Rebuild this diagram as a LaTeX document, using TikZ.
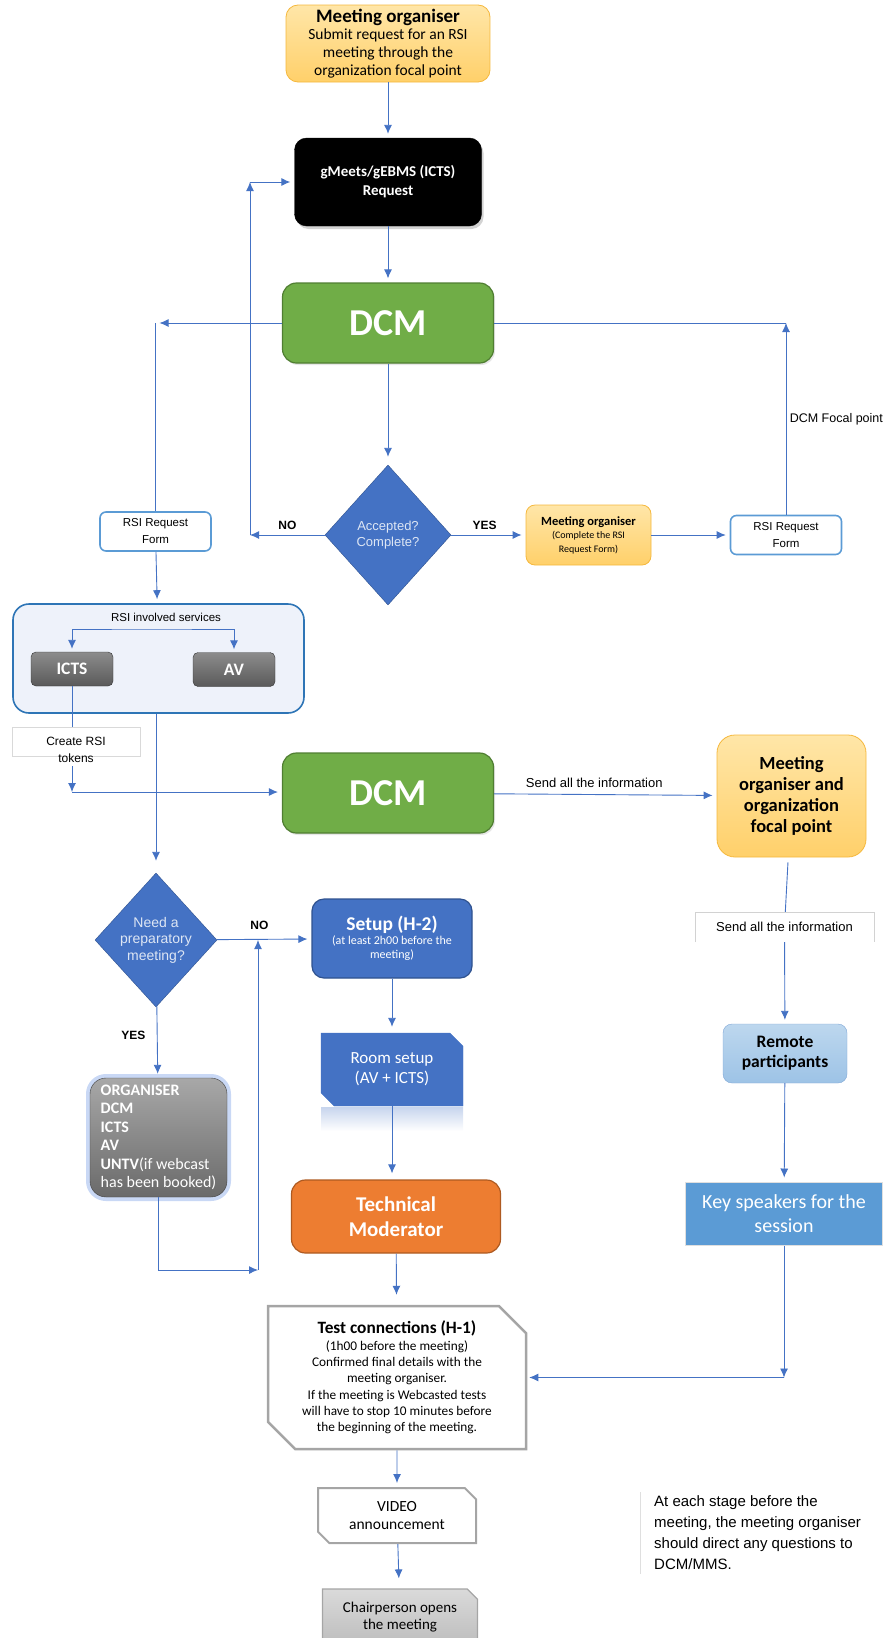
\documentclass[tikz,border=0pt]{standalone}
\usepackage{fontspec}
\setmainfont{Carlito}
\newfontfamily\arial{Liberation Sans}
\usetikzlibrary{positioning,shapes.geometric,shapes.misc,shadows,arrows.meta}

\definecolor{arrowblue}{HTML}{4472C4}
\definecolor{boxblue}{HTML}{4472C4}
\definecolor{boxblueline}{HTML}{2F528F}
\definecolor{dcmgreen}{HTML}{70AD47}
\definecolor{dcmgreenline}{HTML}{507E32}
\definecolor{orgtop}{HTML}{FFE6A8}
\definecolor{orgbot}{HTML}{FFD06A}
\definecolor{orgline}{HTML}{F5B83D}
\definecolor{tmorange}{HTML}{ED7D31}
\definecolor{tmline}{HTML}{AE5A21}
\definecolor{formline}{HTML}{5B9BD5}
\definecolor{svcfill}{HTML}{EEF2FA}
\definecolor{svcline}{HTML}{2E75B6}
\definecolor{icttop}{HTML}{8C8C8C}
\definecolor{ictbot}{HTML}{5A5A5A}
\definecolor{untvtop}{HTML}{A8A8A8}
\definecolor{untvbot}{HTML}{6A6A6A}
\definecolor{untvglow}{HTML}{9DB8EC}
\definecolor{keyblue}{HTML}{5B9BD5}
\definecolor{remtop}{HTML}{BDD7EE}
\definecolor{rembot}{HTML}{9DC3E6}
\definecolor{remline}{HTML}{7FA6D6}
\definecolor{snipline}{HTML}{A5A5A5}
\definecolor{chairtop}{HTML}{DADADA}
\definecolor{chairbot}{HTML}{BDBDBD}
\definecolor{diatext}{HTML}{DDE6F4}

\tikzstyle{block} = [rectangle, draw, text centered, align=center, rounded corners=12pt, inner sep=2pt]
\tikzstyle{orgblock} = [block, draw=orgline, top color=orgtop, bottom color=orgbot, line width=0.8pt]
\tikzstyle{dcmblock} = [block, draw=dcmgreenline, fill=dcmgreen, line width=1.2pt, rounded corners=14pt, text=white, minimum width=211pt, minimum height=80pt, font=\fontsize{38}{40}\selectfont\bfseries, drop shadow={opacity=0.2, shadow xshift=1.5pt, shadow yshift=-2pt}]
\tikzstyle{formblock} = [block, draw=formline, fill=white, line width=1.6pt, rounded corners=6pt, minimum width=111pt, minimum height=39pt, font=\arial\fontsize{11.5}{17}\selectfont]
\tikzstyle{greyblock} = [block, draw=black!80, top color=icttop, bottom color=ictbot, text=white, rounded corners=5pt, minimum width=82pt, minimum height=34pt, font=\fontsize{17.5}{19}\selectfont\bfseries]
\tikzstyle{decision} = [diamond, draw=boxblueline, fill=boxblue, text=diatext, align=center, inner sep=0pt, font=\arial\fontsize{13}{16}\selectfont]
\tikzstyle{snip} = [chamfered rectangle, chamfered rectangle corners={north east, south west}, align=center]
\tikzstyle{tokbox} = [rectangle, draw=gray!30, fill=white, minimum width=128pt, minimum height=29pt, font=\arial\fontsize{12}{14}\selectfont]
\tikzstyle{lbl} = [font=\arial\bfseries\fontsize{12}{14}\selectfont]
\tikzstyle{txt} = [font=\arial\fontsize{13}{15}\selectfont]
\tikzstyle{wire} = [draw=arrowblue, line width=0.9pt]
\tikzstyle{line} = [draw=arrowblue, line width=0.9pt, -{Latex[length=9pt,width=8pt]}, shorten >=4pt]

\begin{document}
\begin{tikzpicture}[x=1pt, y=-1pt]
	\useasboundingbox (0,0) rectangle (890,1638);

	% request chain
	\node[orgblock, minimum width=204pt, minimum height=77pt, inner sep=1pt, font=\fontsize{15.5}{17.8}\selectfont] (mo) at (388,43.5) {{\fontsize{19}{21}\selectfont\bfseries Meeting organiser}\\Submit request for an RSI\\meeting through the\\organization focal point};
	\node[block, draw=black, fill=black, text=white, minimum width=187pt, minimum height=88pt, font=\fontsize{15}{19}\selectfont\bfseries, drop shadow={opacity=0.35, shadow xshift=2pt, shadow yshift=-3pt}] (req) at (388,182) {gMeets/gEBMS (ICTS)\\Request};
	\node[dcmblock] (dcm) at (388,323) {DCM};
	\node[decision, minimum width=126pt, minimum height=140pt] (acc) at (388,535) {Accepted?\\Complete?};
	\node[orgblock, rounded corners=9pt, minimum width=125pt, minimum height=60pt, font=\fontsize{10}{13.5}\selectfont] (mosmall) at (588.5,535) {{\fontsize{12.5}{14}\selectfont\bfseries Meeting organiser}\\(Complete the RSI\\Request Form)};
	\node[formblock] (formR) at (786,535) {RSI Request\\Form};
	\node[formblock] (formL) at (155.5,531.5) {RSI Request\\Form};
	\coordinate (cornerL) at (155.5,323);
	\coordinate (cornerR) at (786,323);
	\coordinate (nocorner) at (250,535);
	\coordinate (notop) at (250,182);

	% services
	\node[block, draw=svcline, fill=svcfill, line width=1.6pt, rounded corners=16pt, minimum width=291pt, minimum height=109pt] (svc) at (158.5,658.5) {};
	\node[font=\arial\fontsize{11.5}{13}\selectfont] (svct) at (166,617) {RSI involved services};
	\node[greyblock] (icts) at (72,669) {ICTS};
	\node[greyblock] (av) at (234,669.5) {AV};
	\coordinate (svcbar) at (150,629);
	\node[tokbox, label={[name=toklbl, font=\arial\fontsize{12}{14}\selectfont, label distance=-6pt]below:tokens}] (tok) at (76,741.5) {Create RSI};
	\coordinate (tokc) at (72,792);

	% information
	\node[dcmblock] (dcm2) at (388,793) {DCM};
	\node[orgblock, rounded corners=18pt, minimum width=149pt, minimum height=122pt, font=\fontsize{18.5}{21}\selectfont\bfseries] (orgfp) at (791.5,796) {Meeting\\organiser and\\organization\\focal point};
	\node[txt, minimum width=179pt, minimum height=30pt] (sendbox) at (784.5,927) {Send all the information};
	\node[block, draw=remline, top color=remtop, bottom color=rembot, rounded corners=9pt, minimum width=124pt, minimum height=59pt, font=\fontsize{17.5}{20}\selectfont\bfseries] (remote) at (785,1053.5) {Remote\\participants};
	\node[rectangle, draw=gray!25, fill=keyblue, line width=1pt, text=white, align=center, minimum width=197pt, minimum height=63pt, font=\fontsize{20}{24}\selectfont] (key) at (784,1213.5) {Key speakers for the\\session};

	% preparation
	\node[decision, minimum width=122pt, minimum height=134pt, font=\arial\fontsize{14}{16.5}\selectfont] (need) at (156,940) {Need a\\preparatory\\meeting?};
	\node[block, draw=black!75, top color=untvtop, bottom color=untvbot, text=white, rounded corners=16pt, align=left, minimum width=137pt, minimum height=119pt, font=\fontsize{16}{18.5}\selectfont, preaction={draw=untvglow, line width=8pt, opacity=0.55}] (untv) at (158.5,1137.5) {\textbf{ORGANISER}\\\textbf{DCM}\\\textbf{ICTS}\\\textbf{AV}\\\textbf{UNTV}(if webcast\\has been booked)};
	\coordinate (loopB) at (258,1270);
	\node[block, draw=boxblueline, fill=boxblue, line width=1.2pt, text=white, minimum width=160pt, minimum height=79pt, font=\fontsize{12}{14}\selectfont] (setup) at (392,938.5) {{\fontsize{19.5}{22}\selectfont\bfseries Setup (H-2)}\\(at least 2h00 before the\\meeting)};
	\node[snip, draw=boxblue, fill=boxblue, text=white, minimum width=142pt, minimum height=73pt, chamfered rectangle xsep=10pt, font=\fontsize{17}{20}\selectfont] (room) at (392,1069.5) {Room setup\\(AV + ICTS)};
	\shade[top color=boxblue!30, bottom color=white] (321,1107) rectangle (463,1131);
	\node[block, draw=tmline, fill=tmorange, line width=1.2pt, rounded corners=14pt, text=white, minimum width=209pt, minimum height=73pt, font=\fontsize{21}{25}\selectfont\bfseries] (tm) at (396,1216.5) {Technical\\Moderator};
	\node[snip, draw=snipline, fill=white, line width=2.5pt, minimum width=258pt, minimum height=143pt, chamfered rectangle xsep=24pt, font=\fontsize{13.3}{16.3}\selectfont] (test) at (397,1377.5) {{\fontsize{17.3}{20}\selectfont\bfseries Test connections (H-1)}\\(1h00 before the meeting)\\Confirmed final details with the\\meeting organiser.\\If the meeting is Webcasted tests\\will have to stop 10 minutes before\\the beginning of the meeting.};
	\node[snip, draw=snipline, fill=white, line width=2pt, minimum width=158pt, minimum height=55pt, chamfered rectangle xsep=8pt, font=\fontsize{15.5}{18}\selectfont] (video) at (397,1515.5) {VIDEO\\announcement};
	\node[chamfered rectangle, chamfered rectangle corners=north east, draw=snipline, line width=1.2pt, top color=chairtop, bottom color=chairbot, align=center, minimum width=155pt, minimum height=56pt, chamfered rectangle xsep=7pt, font=\fontsize{15}{17.5}\selectfont] (chair) at (400,1617) {Chairperson opens\\the meeting};
	\node[anchor=west, align=left, inner xsep=14pt, font=\arial\fontsize{15}{21}\selectfont] (note) at (640,1533) {At each stage before the\\meeting, the meeting organiser\\should direct any questions to\\DCM/MMS.};

	\path[line] (mo) -- (req);
	\path[line] (req) -- (dcm);
	\path[line] (dcm) -- (cornerL);
	\path[wire] (cornerL) -- (formL);
	\path[wire] (dcm) -- (cornerR);
	\path[line, shorten >=0pt] (formR) -- node[txt, right, font=\arial\fontsize{12.5}{15}\selectfont] {DCM Focal point} (cornerR);
	\path[line, shorten >=8pt] (dcm) -- (acc);
	\path[line, shorten >=0pt] (acc) -- node[lbl, above=2pt] {NO} (nocorner);
	\path[line, shorten >=0pt] (nocorner) -- (notop);
	\path[line] (notop) -- (req);
	\path[line] (acc) -- node[lbl, above=2pt, pos=0.45] {YES} (mosmall);
	\path[line] (mosmall) -- (formR);
	\path[line] (formL) -- (svc);
	\path[wire, {Latex[length=9pt,width=8pt]}-{Latex[length=9pt,width=8pt]}, shorten <=3pt, shorten >=3pt] (icts.north) |- (svcbar) -| (av.north);
	\path[wire] (icts.south) -- (icts.south |- tok.north);
	\path[line, shorten >=0pt] (toklbl.south -| tokc) -- (tokc);
	\path[line] (tokc) -- (tokc -| dcm2.west);
	\path[line, shorten >=12pt] (need.north |- svc.south) -- (need);
	\path[line] (dcm2) -- node[txt, above=3pt, pos=0.45] {Send all the information} (orgfp);
	\path[wire, shorten <=5pt] (orgfp) -- (sendbox);
	\path[line] (sendbox) -- (remote);
	\path[line] (remote) -- (key);
	\path[line, shorten >=0pt] (key) -- (key.south |- test.east);
	\path[line, shorten >=2pt] (key.south |- test.east) -- (test);
	\draw[gray!35] (sendbox.south west) -- (sendbox.north west) -- (sendbox.north east) -- (sendbox.south east);
	\draw[gray!25] (note.north west) -- (note.south west);

	\path[line] (need) -- node[lbl, above=6pt, pos=0.45] {NO} (setup);
	\path[line] (need) -- node[lbl, left=8pt, pos=0.4] {YES} (untv);
	\path[line, shorten >=0pt] (untv.south) |- (loopB);
	\path[line, shorten >=0pt] (loopB) -- (loopB |- need.east);
	\path[line, shorten >=6pt] (setup) -- (room);
	\path[line, shorten >=6pt] (room.south) -- (room.south |- tm.north);
	\path[line, shorten >=10pt] (tm) -- (test);
	\path[line] (test) -- (video);
	\path[line, shorten >=10pt] (video) -- (chair);
\end{tikzpicture}
\end{document}
